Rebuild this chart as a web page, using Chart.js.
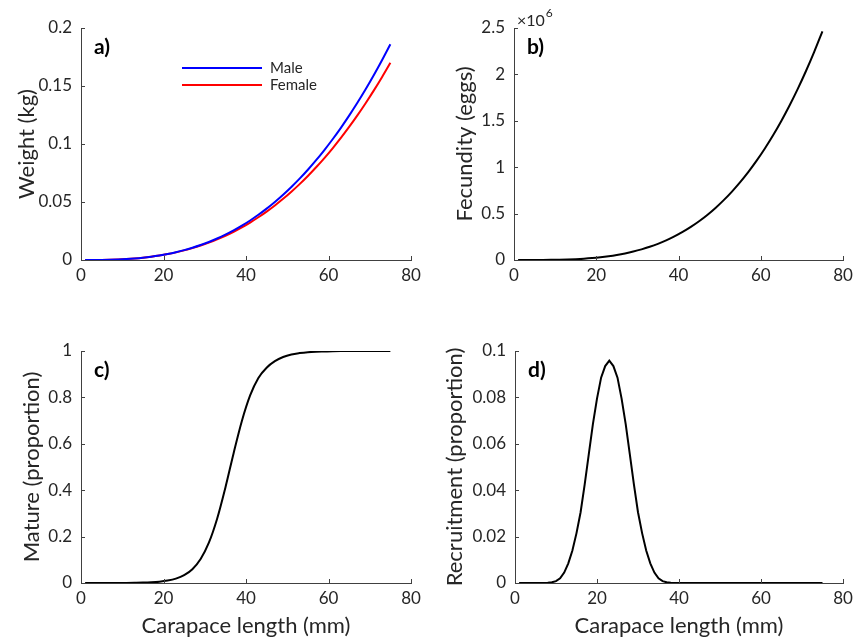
<!DOCTYPE html>
<html>
<head>
<meta charset="utf-8">
<script src="https://cdn.jsdelivr.net/npm/chart.js@4/dist/chart.umd.min.js"></script>
<style>
html,body{margin:0;padding:0;background:#ffffff;}
#wrap{position:relative;width:858px;height:644px;overflow:hidden;}
canvas{position:absolute;}
</style>
</head>
<body>
<div id="wrap">
<canvas id="pa" width="429" height="322" style="left:0px;top:0px;width:429px;height:322px"></canvas>
<canvas id="pb" width="429" height="322" style="left:429px;top:0px;width:429px;height:322px"></canvas>
<canvas id="pc" width="429" height="322" style="left:0px;top:322px;width:429px;height:322px"></canvas>
<canvas id="pd" width="429" height="322" style="left:429px;top:322px;width:429px;height:322px"></canvas>
</div>
<script>
// ---------- data ----------
const lengthsCoarse = [1,3,5,7,9,11,13,15,17,19,21,23,25,27,29,31,33,35,37,39,41,43,45,47,49,51,53,55,57,59,61,63,65,67,69,71,73,75];

const weightMale = [0.000001,0.00002,0.00009,0.00024,0.00048,0.00084,0.00135,0.00202,0.00287,0.00392,
  0.0052,0.00672,0.00849,0.01054,0.01288,0.01553,0.01852,0.02185,0.02554,0.02961,
  0.03408,0.03896,0.04427,0.05002,0.05624,0.06293,0.07011,0.0778,0.08602,0.09477,
  0.10408,0.11395,0.12442,0.13548,0.14715,0.15945,0.1724,0.186];

const weightFemale = [0.000001,0.00002,0.0001,0.00025,0.0005,0.00087,0.00137,0.00203,0.00287,0.0039,
  0.00513,0.00659,0.00828,0.01024,0.01246,0.01497,0.01778,0.0209,0.02435,0.02815,
  0.0323,0.03682,0.04172,0.04702,0.05273,0.05887,0.06543,0.07245,0.07992,0.08787,
  0.09631,0.10525,0.1147,0.12466,0.13517,0.14621,0.15782,0.17];

// fecundity in millions of eggs (axis shows x10^6)
const fecundityMillions = [0,0.00003,0.0002,0.00065,0.00156,0.00312,0.00558,0.00918,0.01418,0.02087,
  0.02954,0.04053,0.05416,0.07077,0.0907,0.11436,0.14212,0.17438,0.21156,0.25392,
  0.30218,0.35649,0.41755,0.48568,0.5613,0.64512,0.73733,0.83855,0.9494,1.07026,
  1.20179,1.34428,1.49865,1.66502,1.84418,2.03669,2.2431,2.464];

const matureProportion = [0.00003,0.00005,0.00009,0.00016,0.00029,0.0005,0.001,0.0017,0.0031,0.0057,
  0.0104,0.0187,0.0336,0.0595,0.1034,0.1736,0.2769,0.411,0.5597,0.6985,
  0.8085,0.884,0.928,0.956,0.974,0.985,0.991,0.995,0.997,0.998,
  0.999,0.9995,0.9997,0.9998,0.9999,1,1,1];

const lengthsFine = [1,2,3,4,5,6,7,8,9,10,11,12,13,14,15,16,17,18,19,20,21,22,23,24,25,26,27,28,29,30,
  31,32,33,34,35,36,37,38,39,40,41,42,43,44,45,46,47,48,49,50,51,52,53,54,55,56,57,58,59,60,
  61,62,63,64,65,66,67,68,69,70,71,72,73,74,75];

const recruitmentProportion = [0,0,0,0,0,0,0,0.0001,0.0003,0.0008,
  0.002,0.0045,0.0085,0.014,0.0215,0.0305,0.0425,0.0555,0.0685,0.0795,
  0.0885,0.0935,0.0958,0.0935,0.0885,0.0795,0.0685,0.0555,0.0425,0.0305,
  0.0215,0.014,0.0085,0.0045,0.002,0.0008,0.0003,0.0001,0,0,
  0,0,0,0,0,0,0,0,0,0,0,0,0,0,0,0,0,0,0,0,
  0,0,0,0,0,0,0,0,0,0,0,0,0,0,0];

const xTicks = [0,20,40,60,80];
const xTickLabels = ['0','20','40','60','80'];
const weightTicks = [0,0.05,0.1,0.15,0.2];
const weightTickLabels = ['0','0.05','0.1','0.15','0.2'];
const fecundityTicks = [0,0.5,1,1.5,2,2.5];
const fecundityTickLabels = ['0','0.5','1','1.5','2','2.5'];
const matureTicks = [0,0.2,0.4,0.6,0.8,1];
const matureTickLabels = ['0','0.2','0.4','0.6','0.8','1'];
const recruitTicks = [0,0.02,0.04,0.06,0.08,0.1];
const recruitTickLabels = ['0','0.02','0.04','0.06','0.08','0.1'];

// ---------- styling ----------
const FONT = 'Lato, "Open Sans", "DejaVu Sans", sans-serif';
const TEXT = '#262626';
const AXIS = '#404040';

function pts(xs, ys){ return xs.map((x,i)=>({x:x, y:ys[i]})); }

const innerTicks = {
  id:'innerTicks',
  afterDatasetsDraw(chart){
    const ctx = chart.ctx, a = chart.chartArea;
    const xs = chart.scales.x, ys = chart.scales.y;
    ctx.save();
    ctx.strokeStyle = AXIS; ctx.lineWidth = 1;
    xs.ticks.forEach(t=>{
      const p = Math.round(xs.getPixelForValue(t.value)) + 0.5;
      ctx.beginPath(); ctx.moveTo(p, a.bottom); ctx.lineTo(p, a.bottom - 4); ctx.stroke();
    });
    ys.ticks.forEach(t=>{
      const p = Math.round(ys.getPixelForValue(t.value)) + 0.5;
      ctx.beginPath(); ctx.moveTo(a.left, p); ctx.lineTo(a.left + 4, p); ctx.stroke();
    });
    ctx.restore();
  }
};

const panelLabel = {
  id:'panelLabel',
  afterDraw(chart, args, opts){
    const ctx = chart.ctx, a = chart.chartArea;
    ctx.save();
    ctx.fillStyle = '#000';
    ctx.font = 'bold 21px ' + FONT;
    ctx.textBaseline = 'middle'; ctx.textAlign = 'left';
    ctx.fillText(opts.text, a.left + 13, a.top + 19);
    if (opts.exponent) {
      ctx.fillStyle = TEXT;
      ctx.font = '16px ' + FONT;
      ctx.fillText('\u00d710', a.left + 3, a.top - 7);
      const w = ctx.measureText('\u00d710').width;
      ctx.font = '12px ' + FONT;
      ctx.fillText(opts.exponent, a.left + 3 + w + 1, a.top - 15);
    }
    ctx.restore();
  }
};

const customLegend = {
  id:'customLegend',
  afterDraw(chart, args, opts){
    if (!opts.show) return;
    const ctx = chart.ctx;
    ctx.save();
    ctx.font = '15px ' + FONT;
    ctx.textBaseline = 'middle'; ctx.textAlign = 'left';
    chart.data.datasets.forEach((ds, i)=>{
      const y = opts.y + i * 17;
      ctx.strokeStyle = ds.borderColor; ctx.lineWidth = 2;
      ctx.beginPath(); ctx.moveTo(opts.x, y); ctx.lineTo(opts.x + 80, y); ctx.stroke();
      ctx.fillStyle = TEXT;
      ctx.fillText(ds.label, opts.x + 88, y);
    });
    ctx.restore();
  }
};

function makePanel(id, p){
  const yLabel = v => p.yLabels[p.yTicks.indexOf(v)] ?? '';
  return new Chart(document.getElementById(id), {
    type:'line',
    data:{ datasets: p.datasets },
    options:{
      responsive:false, animation:false, devicePixelRatio:1,
      layout:{ padding:{ top:p.top, right:p.right, left:0, bottom:0 } },
      elements:{ point:{ radius:0 } },
      plugins:{
        legend:{ display:false }, tooltip:{ enabled:false },
        panelLabel:{ text:p.label, exponent:p.exponent || null },
        customLegend:{ show:!!p.legend, x:p.legend ? p.legend.x : 0, y:p.legend ? p.legend.y : 0 }
      },
      scales:{
        x:{
          type:'linear', min:0, max:80,
          afterBuildTicks: s => { s.ticks = xTicks.map(v=>({value:v})); },
          afterFit: s => { s.height = p.xh; },
          grid:{ display:false, drawTicks:false },
          border:{ display:true, color:AXIS, width:1 },
          ticks:{ padding:5, color:TEXT, font:{ family:FONT, size:17 }, maxRotation:0,
                  callback: v => xTickLabels[xTicks.indexOf(v)] ?? '' },
          title:{ display:!!p.xTitle, text:p.xTitle || '', color:TEXT,
                  font:{ family:FONT, size:22 }, padding:{ top:0, bottom:5 } }
        },
        y:{
          type:'linear', min:p.yTicks[0], max:p.yTicks[p.yTicks.length-1],
          afterBuildTicks: s => { s.ticks = p.yTicks.map(v=>({value:v})); },
          afterFit: s => { s.width = p.yw; },
          grid:{ display:false, drawTicks:false },
          border:{ display:true, color:AXIS, width:1 },
          ticks:{ padding:9, color:TEXT, font:{ family:FONT, size:17 }, callback: yLabel },
          title:{ display:true, text:p.yTitle, color:TEXT,
                  font:{ family:FONT, size:22 }, padding:{ top:p.yTitlePad, bottom:0 } }
        }
      }
    },
    plugins:[innerTicks, panelLabel, customLegend]
  });
}

makePanel('pa', {
  top:28, right:18, xh:62, yw:81, yTitlePad:14,
  yTicks:weightTicks, yLabels:weightTickLabels, yTitle:'Weight (kg)', label:'a)',
  legend:{ x:182, y:68 },
  datasets:[
    { label:'Male', data:pts(lengthsCoarse, weightMale), borderColor:'#0000ff', borderWidth:2, cubicInterpolationMode:'monotone', fill:false },
    { label:'Female', data:pts(lengthsCoarse, weightFemale), borderColor:'#ff0000', borderWidth:2, cubicInterpolationMode:'monotone', fill:false }
  ]
});

makePanel('pb', {
  top:28, right:15, xh:62, yw:85, yTitlePad:23,
  yTicks:fecundityTicks, yLabels:fecundityTickLabels, yTitle:'Fecundity (eggs)', label:'b)', exponent:'6',
  datasets:[
    { label:'Fecundity', data:pts(lengthsCoarse, fecundityMillions), borderColor:'#000000', borderWidth:2, cubicInterpolationMode:'monotone', fill:false }
  ]
});

makePanel('pc', {
  top:29, right:18, xh:61, yw:81, yTitlePad:19,
  yTicks:matureTicks, yLabels:matureTickLabels, yTitle:'Mature (proportion)', label:'c)',
  xTitle:'Carapace length (mm)',
  datasets:[
    { label:'Mature', data:pts(lengthsCoarse, matureProportion), borderColor:'#000000', borderWidth:2, cubicInterpolationMode:'monotone', fill:false }
  ]
});

makePanel('pd', {
  top:29, right:15, xh:61, yw:86, yTitlePad:13,
  yTicks:recruitTicks, yLabels:recruitTickLabels, yTitle:'Recruitment (proportion)', label:'d)',
  xTitle:'Carapace length (mm)',
  datasets:[
    { label:'Recruitment', data:pts(lengthsFine, recruitmentProportion), borderColor:'#000000', borderWidth:2, tension:0, fill:false }
  ]
});
</script>
</body>
</html>
